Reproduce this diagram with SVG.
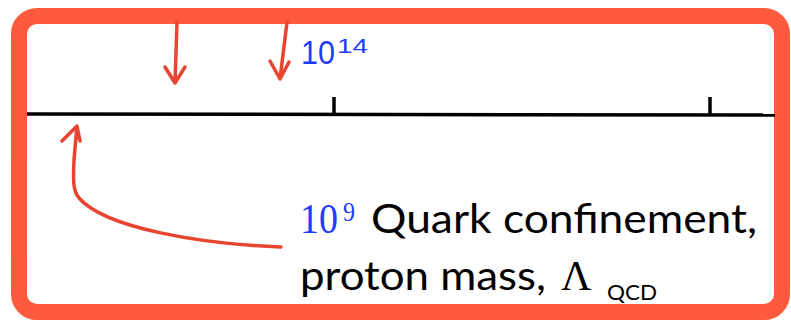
<svg xmlns="http://www.w3.org/2000/svg" width="791" height="323" viewBox="0 0 791 323">
<style>
.arr{fill:none;stroke:#E8442F;stroke-width:3.5;stroke-linecap:round;stroke-linejoin:round}
.axis{fill:none;stroke:#000;stroke-width:3.5}
.blue{fill:#1E3CFF}
.lbl{font-family:Lato,"Open Sans",sans-serif;fill:#000}
</style>
<rect width="791" height="323" fill="#fff"/>
<g id="frame"><rect x="19" y="16" width="763" height="296" rx="18" fill="none" stroke="#FF5A3E" stroke-width="16"/></g>
<g id="axis">
<line class="axis" x1="27" y1="114" x2="775" y2="115"/>
<line class="axis" x1="334" y1="97" x2="334" y2="115"/>
<line class="axis" x1="710" y1="97" x2="710" y2="115"/>
</g>
<g id="label14">
<text x="301" y="64" class="blue" font-family="'Liberation Sans',Arial,sans-serif" font-size="33" textLength="34" lengthAdjust="spacingAndGlyphs">10</text>
<text x="337" y="53" class="blue" font-family="'Liberation Sans',Arial,sans-serif" font-size="20" textLength="31" lengthAdjust="spacingAndGlyphs">14</text>
</g>
<g id="label9">
<text x="300" y="233" class="blue" font-family="'Liberation Serif','Times New Roman',serif" font-size="42" textLength="38" lengthAdjust="spacingAndGlyphs">10</text>
<text x="343" y="221" class="blue" font-family="'Liberation Serif','Times New Roman',serif" font-size="27" textLength="12" lengthAdjust="spacingAndGlyphs">9</text>
<text x="371" y="233" class="lbl" font-size="40" textLength="386" lengthAdjust="spacingAndGlyphs">Quark confinement,</text>
<text x="300" y="290" class="lbl" font-size="40" textLength="246" lengthAdjust="spacingAndGlyphs">proton mass,</text>
<text x="561" y="290" font-family="'Liberation Serif','Times New Roman',serif" font-size="42" fill="#000">Λ</text>
<text x="607" y="300" class="lbl" font-size="21" textLength="50" lengthAdjust="spacingAndGlyphs">QCD</text>
</g>
<g id="connectors">
<path class="arr" d="M177,22 L175,83 M165,67 L175,83 L185,67"/>
<path class="arr" d="M287,22 L280,79 M270,61 L280,79 L289,62"/>
<path class="arr" d="M281,247 C200,244 105,228 79,198 C73,191 73,180 74,160 L77,126 M62,141 L77,126 L80,141"/>
</g>
</svg>
